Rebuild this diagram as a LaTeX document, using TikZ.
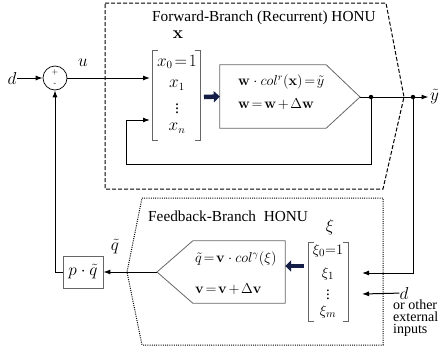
\documentclass[tikz,border=0pt]{standalone}
\usepackage{amsmath}
\usepackage[no-math]{fontspec}
\setmainfont{Liberation Serif}
\usetikzlibrary{arrows.meta}
\definecolor{bluearr}{RGB}{20,30,70}
\tikzset{
  conn/.style={line width=1pt},
  arr/.style={conn,-{Latex[length=7pt,width=5pt]}},
  blk/.style={draw=black!60,line width=0.8pt},
  brk/.style={draw=black!60,line width=0.8pt},
  bigarr/.style={line width=4.5pt,draw=bluearr,-{Triangle[length=6pt,width=11pt]}},
  lbl/.style={inner sep=0pt},
  mth/.style={inner sep=0pt,font=\fontsize{14}{16}\selectfont},
  vec/.style={inner sep=0pt,font=\fontsize{16}{18}\selectfont},
  xivec/.style={inner sep=0pt,font=\fontsize{15}{18}\selectfont},
  dotn/.style={circle,fill=black,inner sep=0pt,minimum size=4.5pt},
}
\begin{document}
\begin{tikzpicture}[x=1pt,y=-1pt,font=\fontsize{15.3}{18}\selectfont]
\useasboundingbox (0,0) rectangle (440,354);
% ---------- outer boxes
\draw[conn,dash pattern=on 4pt off 2pt] (105,3) -- (386,3) -- (404,97) -- (383,189) -- (105,189) -- cycle;
\draw[conn,dash pattern=on 1pt off 1.2pt] (142,198) -- (383,198) -- (383,345) -- (142,345) -- (127,272) -- cycle;
\node[anchor=west,lbl] (t1) at (152,18) {Forward-Branch (Recurrent) HONU};
\node[anchor=west,lbl] (t2) at (148,216) {Feedback-Branch\ \ HONU};
% ---------- summation
\node[circle,draw,line width=0.7pt,minimum size=24pt,inner sep=0pt] (sum) at (55,78) {};
\node[lbl,font=\sffamily\fontsize{8}{8}\selectfont] (plus) at (55,72.5) {+};
\node[lbl,font=\sffamily\fontsize{8}{8}\selectfont] (minus) at (55,84) {-};
\node[lbl,font=\fontsize{17}{18}\selectfont] (d1) at (12,78) {$d$};
\node[lbl,font=\fontsize{17}{18}\selectfont] (u) at (83,63) {$u$};
% ---------- x vector
\node[minimum width=47pt,minimum height=89pt,inner sep=0pt] (xv) at (176.5,95.5) {};
\draw[brk] ([xshift=5pt]xv.north west) -- (xv.north west) -- (xv.south west) -- ([xshift=5pt]xv.south west);
\draw[brk] ([xshift=-5pt]xv.north east) -- (xv.north east) -- (xv.south east) -- ([xshift=-5pt]xv.south east);
\node[vec] (xlab) at (178,35) {$\mathbf{x}$};
\node[vec] (x0) at (177,62) {$x_0\mkern2mu{=}\mkern2mu1$};
\node[vec] (x1) at (177,85) {$x_1$};
\node[vec] (xd) at (177,106) {$\vdots$};
\node[vec] (xn) at (177,128) {$x_n$};
\coordinate (xin1) at (150,78);
\coordinate (xin2) at (150,120);
% ---------- forward block
\node[minimum width=106pt,minimum height=63pt,inner sep=0pt] (fwd) at (273,96.5) {};
\coordinate (fwdtip) at (360,97);
\draw[blk] (fwd.north west) -- (fwd.north east) -- (fwdtip) -- (fwd.south east) -- (fwd.south west) -- cycle;
\node[mth,anchor=west] (fl1) at (238,82) {$\mathbf{w}\cdot col^{r}(\mathbf{x})\mkern2mu{=}\mkern2mu\tilde{y}$};
\node[mth,anchor=west] (fl2) at (238,104) {$\mathbf{w}\mkern2mu{=}\mkern2mu\mathbf{w}\mkern2mu{+}\mkern2mu\Delta\mathbf{w}$};
\draw[bigarr] (204,97) -- (fwd.west);
% ---------- output
\node[dotn] (dot1) at (371,97) {};
\node[dotn] (dot2) at (413,97) {};
\node[lbl,anchor=west,font=\fontsize{17}{18}\selectfont] (ylab) at (430,97) {$\tilde{y}$};
\coordinate (lb) at (126,164);
\draw[conn] (fwdtip) -- (dot1) -- (dot2);
\draw[arr] (dot2) -- ([xshift=-1.5pt]ylab.west);
\draw[arr] (dot1) |- (lb) |- (xin2);
\draw[arr] (sum) -- (xin1);
\draw[arr] (d1) -- (sum);
% ---------- xi vector
\node[minimum width=39pt,minimum height=78pt,inner sep=0pt] (xiv) at (328.5,282) {};
\draw[brk] ([xshift=5pt]xiv.north west) -- (xiv.north west) -- (xiv.south west) -- ([xshift=5pt]xiv.south west);
\draw[brk] ([xshift=-5pt]xiv.north east) -- (xiv.north east) -- (xiv.south east) -- ([xshift=-5pt]xiv.south east);
\node[vec] (xilab) at (330,227) {$\xi$};
\node[xivec] (xi0) at (328,251) {$\xi_0{=}1$};
\node[xivec] (xi1) at (328,274) {$\xi_1$};
\node[xivec] (xid) at (328,292) {$\vdots$};
\node[xivec] (xim) at (328,312) {$\xi_m$};
\coordinate (xiin1) at (362,273);
\coordinate (xiin2) at (362,294);
\draw[arr] (dot2) |- (xiin1);
\node[lbl,font=\fontsize{17}{18}\selectfont] (d2) at (404,293) {$d$};
\draw[arr] (d2) -- (xiin2);
\node[anchor=north west,align=left,inner sep=0pt,font=\fontsize{14}{12}\selectfont] (ext) at (393,300) {or other\\external\\inputs};
% ---------- feedback block
\node[minimum width=92pt,minimum height=62pt,inner sep=0pt] (fb) at (239,272) {};
\coordinate (fbtip) at (157,272);
\draw[blk] (fb.north west) -- (fb.north east) -- (fb.south east) -- (fb.south west) -- (fbtip) -- cycle;
\node[mth,anchor=west] (bl1) at (195,259) {$\tilde{q}\mkern2mu{=}\mkern2mu\mathbf{v}\cdot col^{\gamma}(\xi)$};
\node[mth,anchor=west] (bl2) at (195,289) {$\mathbf{v}\mkern2mu{=}\mkern2mu\mathbf{v}\mkern2mu{+}\mkern2mu\Delta\mathbf{v}$};
\draw[bigarr] (304,266) -- (fb.east |- 0,266);
% ---------- p q box
\node[blk,minimum width=40pt,minimum height=32pt,inner sep=0pt,font=\fontsize{16}{18}\selectfont] (pq) at (83,272) {$p\cdot\tilde{q}$};
\node[lbl,font=\fontsize{17}{18}\selectfont] (qlab) at (115,247) {$\tilde{q}$};
\draw[arr] (fbtip) -- (pq.east);
\draw[arr] (pq.west) -| (sum.south);
\end{tikzpicture}
\end{document}
